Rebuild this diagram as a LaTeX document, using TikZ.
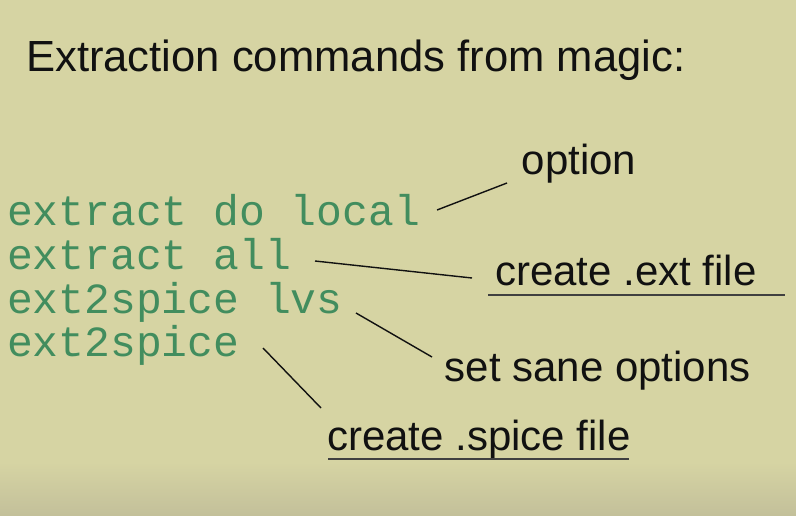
\documentclass[tikz,border=0pt]{standalone}
\usepackage{fontspec}
\setmainfont{Liberation Sans}
\newfontfamily\codefont{Liberation Mono}
\definecolor{slidebg}{HTML}{D6D4A3}
\definecolor{slidebot}{HTML}{C3C09A}
\definecolor{codegreen}{HTML}{428D5E}
\definecolor{ink}{HTML}{111111}
\tikzset{
  heading/.style={anchor=base west, inner sep=0pt, text=ink, font=\fontsize{43.6}{43.6}\selectfont},
  cmd/.style={anchor=base west, inner sep=0pt, text=codegreen, font=\codefont\fontsize{43}{43}\selectfont},
  note/.style={anchor=base west, inner sep=0pt, text=ink, font=\fontsize{42}{42}\selectfont},
  pointer/.style={draw=ink, line width=1.4pt},
  rule/.style={draw=black!75, line width=1.5pt}
}
\begin{document}
\begin{tikzpicture}[x=1pt,y=-1pt]
  % slide background with a slight darkening towards the bottom edge
  \fill[slidebg] (0,0) rectangle (796,515);
  \shade[top color=slidebg, bottom color=slidebot] (0,462) rectangle (796,515);
  \useasboundingbox (0,0) rectangle (796,515);

  % heading
  \node[heading] (title) at (26,71) {Extraction commands from magic:};

  % magic commands
  \node[cmd] (c1) at (7,225) {extract do local};
  \node[cmd] (c2) at (7,269) {extract all};
  \node[cmd] (c3) at (7,313) {ext2spice lvs};
  \node[cmd] (c4) at (7,356) {ext2spice};

  % explanations
  \node[note] (opt)   at (521.5,174) {option};
  \node[note] (ext)   at (495,285)   {create .ext file};
  \node[note] (sane)  at (444.5,381) {set sane options};
  \node[note] (spice) at (327,450)   {create .spice file};

  % underlines below the two "create" notes
  \coordinate (extL) at (488,295);   \coordinate (extR) at (785,295);
  \coordinate (spcL) at (328,459);   \coordinate (spcR) at (629,459);
  \draw[rule] (extL) -- (extR);
  \draw[rule] (spcL) -- (spcR);

  % pointer end points
  \coordinate (p1a) at (437,210); \coordinate (p1b) at (507,183);
  \coordinate (p2a) at (315,261); \coordinate (p2b) at (472,278);
  \coordinate (p3a) at (356,313); \coordinate (p3b) at (432,357);
  \coordinate (p4a) at (263,348); \coordinate (p4b) at (321,408);

  \draw[pointer] (p1a) -- (p1b);
  \draw[pointer] (p2a) -- (p2b);
  \draw[pointer] (p3a) -- (p3b);
  \draw[pointer] (p4a) -- (p4b);
\end{tikzpicture}
\end{document}
